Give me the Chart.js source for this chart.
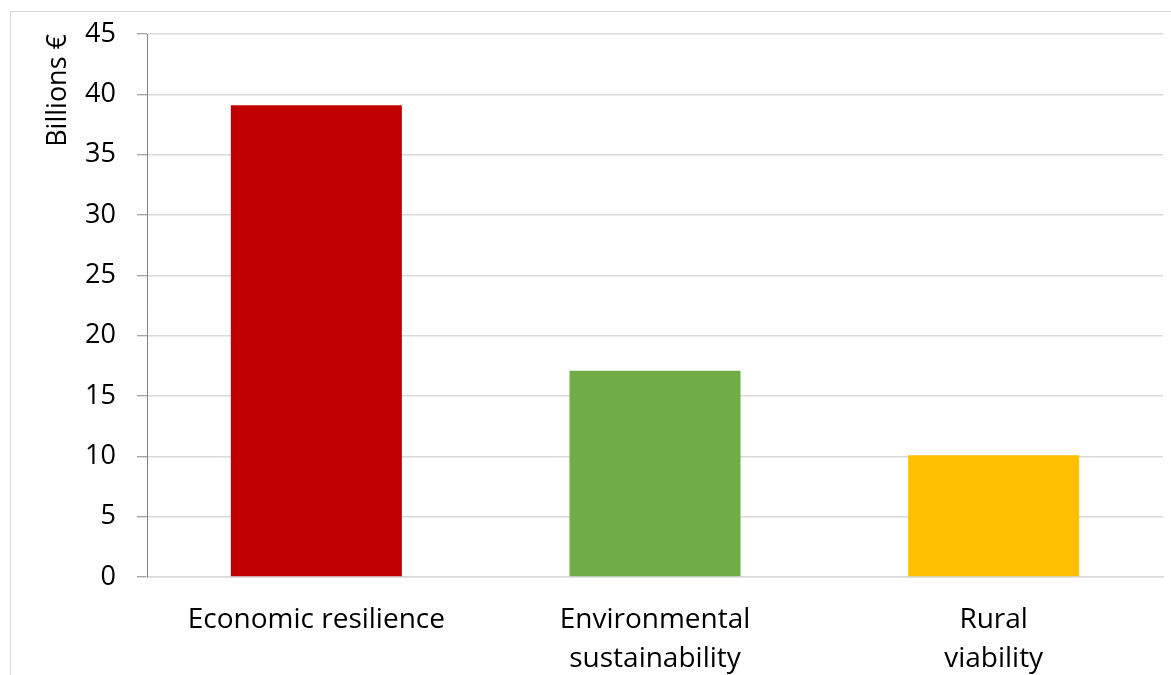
<!DOCTYPE html>
<html>
<head>
<meta charset="utf-8">
<script src="https://cdn.jsdelivr.net/npm/chart.js@4"></script>
<style>
    body { margin: 0; background: #fff; overflow: hidden; }
    #wrap { position: relative; width: 1171px; height: 675px; }
    #frame { position: absolute; left: 10px; top: 11px; width: 1200px; height: 700px; border: 1.5px solid #d9d9d9; }
    canvas { position: absolute; left: 0; top: 0; }
</style>
</head>
<body>
<div id="wrap">
    <div id="frame"></div>
    <canvas id="chart" width="1171" height="675"></canvas>
</div>
<script>
var categories = ["Economic resilience", ["Environmental", "sustainability"], ["Rural", "viability"]];
var amounts = [39.1, 17.1, 10.1];
var barColors = ["#C00000", "#70AD47", "#FFC000"];
var yTicks = [0, 5, 10, 15, 20, 25, 30, 35, 40, 45];

var fontFamily = "'Open Sans', sans-serif";

new Chart(document.getElementById("chart").getContext("2d"), {
    type: "bar",
    data: {
        labels: categories,
        datasets: [{
            data: amounts,
            backgroundColor: barColors,
            borderWidth: 0,
            categoryPercentage: 1,
            barPercentage: 0.505
        }]
    },
    options: {
        responsive: false,
        animation: false,
        layout: { padding: { left: 0, top: 34, right: 8, bottom: 0 } },
        plugins: { legend: { display: false }, tooltip: { enabled: false } },
        scales: {
            x: {
                grid: { display: false, drawTicks: false },
                border: { display: true, color: "#d9d9d9", width: 1.5 },
                ticks: {
                    color: "#000",
                    padding: 23,
                    maxRotation: 0,
                    font: { family: fontFamily, size: 28, lineHeight: 1.4 }
                },
                afterFit: function(scale) {
                    scale.height = 98;
                    scale.paddingLeft = 0;
                    scale.paddingRight = 0;
                }
            },
            y: {
                min: 0,
                max: 45,
                afterBuildTicks: function(scale) {
                    scale.ticks = yTicks.map(function(v) { return { value: v }; });
                },
                grid: { color: "#d9d9d9", lineWidth: 1.5, tickLength: 10, tickColor: "#868686", tickWidth: 1 },
                border: { display: true, color: "#868686", width: 1 },
                ticks: {
                    color: "#000",
                    padding: 21,
                    font: { family: fontFamily, size: 27 }
                },
                title: {
                    display: true,
                    text: "Billions €",
                    align: "end",
                    color: "#000",
                    padding: { top: 42, bottom: 0 },
                    font: { family: fontFamily, size: 27 }
                },
                afterFit: function(scale) {
                    scale.width = 147;
                    scale.paddingTop = 0;
                    scale.paddingBottom = 0;
                }
            }
        }
    }
});
</script>
</body>
</html>
